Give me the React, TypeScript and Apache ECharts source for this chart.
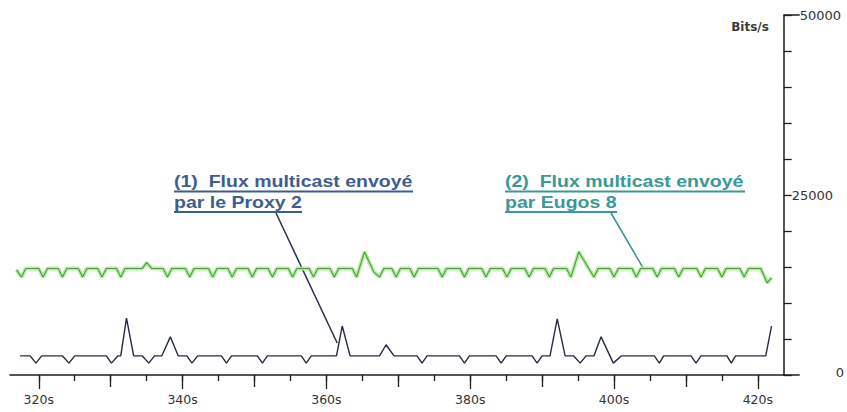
import React, { useEffect, useRef } from "react";
import * as echarts from "echarts";

// Time (s) and bit-rate (bits/s) vertices
const NAVY_T = [
  317.4, 318.8, 319.6, 320.4, 323.3, 324.2, 325.0, 329.4, 330.1, 331.0, 331.4, 332.2, 333.2,
  334.4, 335.3, 336.1, 337.1, 338.3, 339.4, 340.6, 341.3, 342.1, 345.4, 346.1, 346.8,
  350.4, 351.1, 351.8, 356.5, 357.2, 357.9, 361.4, 362.2, 363.3, 367.4, 368.3, 369.4,
  372.6, 373.3, 374.0, 378.5, 379.2, 379.9, 383.6, 384.3, 385.0, 388.6, 389.3, 390.0,
  391.1, 392.1, 393.2, 394.4, 395.3, 396.1, 397.2, 398.2, 399.9, 401.0, 405.6, 406.3,
  406.9, 410.7, 411.4, 412.1, 415.7, 416.3, 416.9, 421.1, 421.9,
];
const NAVY_V = [
  2650, 2650, 1650, 2650, 2650, 1650, 2650, 2650, 1650, 2650, 2650, 7900, 2650,
  2650, 1650, 2650, 2650, 5300, 2650, 2650, 1650, 2650, 2650, 1650, 2650,
  2650, 1650, 2650, 2650, 1650, 2650, 2650, 6800, 2650, 2650, 4200, 2650,
  2650, 1650, 2650, 2650, 1650, 2650, 2650, 1650, 2650, 2650, 1650, 2650,
  2650, 7800, 2650, 2650, 1650, 2650, 2650, 5300, 1650, 2650, 2650, 1650,
  2650, 2650, 1650, 2650, 2650, 1650, 2650, 2650, 6800,
];

const GREEN_T = [
  316.9, 317.6, 318.2, 320.0, 320.6, 321.2, 322.7, 323.3, 323.9, 325.5, 326.1, 326.7,
  328.2, 328.8, 329.4, 330.8, 331.4, 332.0, 334.4, 335.0, 335.7, 337.3, 337.9, 338.5,
  340.4, 341.0, 341.6, 343.6, 344.2, 344.8, 346.3, 346.9, 347.5, 349.1, 349.7, 350.3,
  351.9, 352.5, 353.1, 354.7, 355.3, 355.9, 357.6, 358.2, 358.8, 360.5, 361.1, 361.7,
  363.6, 364.2, 365.3, 366.6, 367.4, 368.0, 369.1, 369.7, 370.3, 371.6, 372.2, 372.8,
  375.5, 376.1, 376.7, 378.6, 379.2, 379.8, 381.6, 382.2, 382.8, 384.5, 385.1, 385.7,
  387.6, 388.2, 388.8, 390.4, 391.0, 391.6, 393.4, 394.0, 395.1, 397.2, 397.8, 399.4,
  400.0, 400.6, 402.5, 403.1, 403.7, 405.4, 406.0, 406.6, 408.4, 409.0, 409.6, 411.5,
  412.1, 412.7, 414.4, 415.0, 415.6, 417.5, 418.1, 418.7, 420.4, 421.3, 421.9,
];
const GREEN_V = [
  14600, 13600, 14800, 14800, 13600, 14800, 14800, 13600, 14800, 14800, 13600, 14800,
  14800, 13600, 14800, 14800, 13600, 14800, 14800, 15600, 14800, 14800, 13600, 14800,
  14800, 13600, 14800, 14800, 13600, 14800, 14800, 13600, 14800, 14800, 13600, 14800,
  14800, 13600, 14800, 14800, 13600, 14800, 14800, 13600, 14800, 14800, 13600, 14800,
  14800, 13600, 17100, 14300, 13600, 14800, 14800, 13600, 14800, 14800, 13600, 14800,
  14800, 13600, 14800, 14800, 13600, 14800, 14800, 13600, 14800, 14800, 13600, 14800,
  14800, 13600, 14800, 14800, 13600, 14800, 14800, 13600, 17100, 13600, 14800, 14800,
  13600, 14800, 14800, 13600, 14800, 14800, 13600, 14800, 14800, 13600, 14800, 14800,
  13600, 14800, 14800, 13600, 14800, 14800, 13600, 14800, 14800, 12800, 13500,
];

const X_MINOR_TICKS = [320, 325, 330, 335, 340, 345, 350, 355, 360, 365, 370, 375, 380, 385, 390, 395, 400, 405, 410, 415, 420];
const X_MID_TICKS = [330, 350, 370, 390, 410];
const X_MAJOR_TICKS = [320, 340, 360, 380, 400, 420];
const Y_LABELS = [0, 25000, 50000];
const Y_LONG_TICKS = [0, 50000];

const ANNOT_1 = ["(1)  Flux multicast envoyé", "par le Proxy 2"];
const ANNOT_2 = ["(2)  Flux multicast envoyé", "par Eugos 8"];
const ANNOT_1_TARGET = [361.5, 4450];
const ANNOT_2_TARGET = [404.2, 14600];

export default function App() {
  const ref = useRef<HTMLDivElement>(null);

  useEffect(() => {
    const chart = echarts.init(ref.current as HTMLDivElement, null, { renderer: "svg" });
    const navy = NAVY_T.map((t, i) => [t, NAVY_V[i]]);
    const green = GREEN_T.map((t, i) => [t, GREEN_V[i]]);
    const axisColor = "#1e1e1e";
    const xBase = {
      type: "value",
      position: "bottom",
      min: 316,
      max: 423.6,
      splitLine: { show: false },
    };
    const option: any = {
      animation: false,
      backgroundColor: "#ffffff",
      grid: { left: 10, right: 62, top: 15, bottom: 37, containLabel: false },
      xAxis: [
        {
          ...xBase,
          axisLine: { show: true, lineStyle: { color: axisColor, width: 1.5 } },
          axisTick: { show: true, customValues: X_MINOR_TICKS, length: 6, lineStyle: { color: axisColor, width: 1.3 } },
          axisLabel: { show: false },
        },
        {
          ...xBase,
          axisLine: { show: false },
          axisTick: { show: true, customValues: X_MID_TICKS, length: 12, lineStyle: { color: axisColor, width: 1.3 } },
          axisLabel: { show: false },
        },
        {
          ...xBase,
          axisLine: { show: false },
          axisTick: { show: true, customValues: X_MAJOR_TICKS, length: 14, lineStyle: { color: axisColor, width: 1.3 } },
          axisLabel: {
            show: true,
            customValues: X_MAJOR_TICKS,
            margin: 18,
            formatter: (v: number) => `${v}s`,
            color: "#333333",
            fontSize: 12.5,
            fontFamily: "DejaVu Sans",
          },
        },
      ],
      yAxis: [
        {
          type: "value",
          position: "right",
          min: 0,
          max: 50000,
          interval: 5000,
          splitLine: { show: false },
          axisLine: { show: true, lineStyle: { color: axisColor, width: 1.5 } },
          axisTick: { show: true, length: 8, lineStyle: { color: axisColor, width: 1.3 } },
          axisLabel: {
            show: true,
            customValues: Y_LABELS,
            margin: 8,
            formatter: (v: number) => (v === 0 ? "{z|0}" : v === 50000 ? "{t|50000}" : "{m|25000}"),
            rich: {
              z: { fontSize: 13, fontFamily: "DejaVu Sans", color: "#333", padding: [0, 0, 6, 44] },
              t: { fontSize: 13, fontFamily: "DejaVu Sans", color: "#333", padding: [0, 0, 0, 8] },
              m: { fontSize: 13, fontFamily: "DejaVu Sans", color: "#333", padding: [0, 0, 0, 0] },
            },
          },
        },
        {
          type: "value",
          position: "right",
          min: 0,
          max: 50000,
          splitLine: { show: false },
          axisLine: { show: false },
          axisTick: { show: true, customValues: Y_LONG_TICKS, length: 16, lineStyle: { color: axisColor, width: 1.5 } },
          axisLabel: { show: false },
        },
      ],
      series: [
        {
          type: "line",
          name: "glow",
          data: green,
          symbol: "none",
          silent: true,
          z: 1,
          lineStyle: { color: "#b3ec9c", width: 4, opacity: 0.9 },
        },
        {
          type: "line",
          name: "Eugos 8",
          data: green,
          symbol: "none",
          silent: true,
          z: 2,
          lineStyle: { color: "#4b9a3e", width: 1.1 },
        },
        {
          type: "line",
          name: "Proxy 2",
          data: navy,
          symbol: "none",
          silent: true,
          z: 3,
          lineStyle: { color: "#262b45", width: 1.4 },
        },
      ],
    };
    chart.setOption(option);

    const p1 = chart.convertToPixel({ xAxisIndex: 0, yAxisIndex: 0 }, ANNOT_1_TARGET) as number[];
    const p2 = chart.convertToPixel({ xAxisIndex: 0, yAxisIndex: 0 }, ANNOT_2_TARGET) as number[];
    const c1 = "#3e5d8f";
    const c2 = "#3a9896";
    const textStyle = (text: string, fill: string) => ({
      text,
      fill,
      fontSize: 16,
      fontWeight: "bold",
      fontFamily: "Liberation Sans, Arial, sans-serif",
      textAlign: "left",
      verticalAlign: "middle",
    });
    chart.setOption({
      graphic: [
        {
          type: "text",
          x: 750,
          y: 27,
          style: {
            text: "Bits/s",
            fill: "#3a3a3a",
            fontSize: 12,
            fontWeight: "bold",
            fontFamily: "DejaVu Sans",
            textAlign: "center",
            verticalAlign: "middle",
          },
        },
        { type: "text", x: 174, y: 182, scaleX: 1.22, style: textStyle(ANNOT_1[0], c1) },
        { type: "text", x: 174, y: 203, scaleX: 1.22, style: textStyle(ANNOT_1[1], c1) },
        { type: "line", shape: { x1: 174, y1: 191.5, x2: 413, y2: 191.5 }, style: { stroke: c1, lineWidth: 2 } },
        { type: "line", shape: { x1: 174, y1: 212, x2: 302, y2: 212 }, style: { stroke: c1, lineWidth: 2 } },
        { type: "line", shape: { x1: 276, y1: 213, x2: p1[0], y2: p1[1] }, style: { stroke: "#27304a", lineWidth: 1.5 } },
        { type: "text", x: 505, y: 182, scaleX: 1.22, style: textStyle(ANNOT_2[0], c2) },
        { type: "text", x: 505, y: 203, scaleX: 1.22, style: textStyle(ANNOT_2[1], c2) },
        { type: "line", shape: { x1: 505, y1: 191.5, x2: 745, y2: 191.5 }, style: { stroke: c2, lineWidth: 2 } },
        { type: "line", shape: { x1: 505, y1: 212, x2: 617, y2: 212 }, style: { stroke: c2, lineWidth: 2 } },
        { type: "line", shape: { x1: 611, y1: 213, x2: p2[0], y2: p2[1] }, style: { stroke: "#3a8f94", lineWidth: 1.5 } },
      ],
    });

    return () => chart.dispose();
  }, []);

  return (
    <div
      ref={ref}
      style={{ position: "fixed", left: 0, top: 0, width: 847, height: 412, background: "#ffffff" }}
    />
  );
}
